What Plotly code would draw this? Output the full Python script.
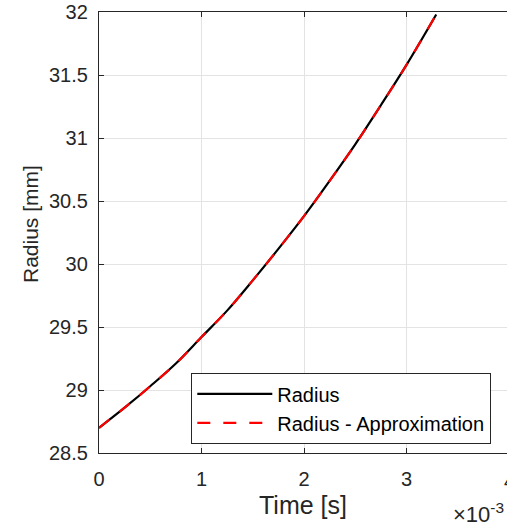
import plotly.graph_objects as go

# Data (time in seconds, radius in mm)
time_s = [0.0, 0.00025, 0.0005, 0.00075, 0.001, 0.00125, 0.0015, 0.00175,
          0.002, 0.00225, 0.0025, 0.00275, 0.003, 0.00329]
radius_mm = [28.70, 28.86, 29.03, 29.21, 29.42, 29.63, 29.87, 30.12,
             30.38, 30.66, 30.95, 31.26, 31.58, 31.98]
radius_approx_mm = [28.70, 28.86, 29.03, 29.21, 29.42, 29.63, 29.87, 30.12,
                    30.38, 30.66, 30.95, 31.26, 31.58, 31.98]

x_tickvals = [0, 0.001, 0.002, 0.003, 0.004]
x_ticktext = ["0", "1", "2", "3", "4"]
y_tickvals = [28.5, 29, 29.5, 30, 30.5, 31, 31.5, 32]
y_ticktext = ["28.5", "29", "29.5", "30", "30.5", "31", "31.5", "32"]

FONT = "Liberation Sans, Arial, Helvetica, sans-serif"
AX = "#262626"
GRID = "#e3e3e3"

W, H = 507, 526
ML, MT, MB = 99, 12, 73
PH = H - MT - MB
# full axes would extend to 509 px (past the window edge); clip the visible range accordingly
full_w = 410
vis_w = W - ML
x_max = 0.004 * vis_w / full_w

fig = go.Figure()
fig.add_trace(go.Scatter(x=time_s, y=radius_mm, mode="lines", name="Radius",
                         line=dict(color="black", width=2.2, shape="spline")))
fig.add_trace(go.Scatter(x=time_s, y=radius_approx_mm, mode="lines",
                         name="Radius - Approximation",
                         line=dict(color="#ff0000", width=2.2, dash="13px,13px", shape="spline")))

fig.update_layout(
    width=W, height=H,
    margin=dict(l=ML, r=0, t=MT, b=MB, pad=0),
    paper_bgcolor="white", plot_bgcolor="white",
    font=dict(family=FONT, color=AX, size=20),
    showlegend=True,
    hovermode=False,
    legend=dict(
        x=(191 - ML) / vis_w, y=(453 - 373) / PH,
        xanchor="left", yanchor="top",
        bgcolor="white", bordercolor=AX, borderwidth=1.3,
        font=dict(family=FONT, size=20, color="black"),
        itemwidth=75,
        tracegroupgap=0,
    ),
    xaxis=dict(
        range=[0, x_max],
        tickvals=x_tickvals, ticktext=x_ticktext,
        ticks="inside", ticklen=5, tickcolor=AX, tickwidth=1.3,
        showline=True, linecolor=AX, linewidth=1.3, mirror="ticks",
        showgrid=True, gridcolor=GRID, gridwidth=1,
        zeroline=False,
        tickfont=dict(size=20, color=AX),
        ticklabelstandoff=8,
        title=dict(text="Time [s]", font=dict(size=25, color=AX), standoff=7),
    ),
    yaxis=dict(
        range=[28.5, 32],
        tickvals=y_tickvals, ticktext=y_ticktext,
        ticks="inside", ticklen=5, tickcolor=AX, tickwidth=1.3,
        showline=True, linecolor=AX, linewidth=1.3, mirror=False,
        showgrid=True, gridcolor=GRID, gridwidth=1,
        zeroline=False,
        tickfont=dict(size=20, color=AX),
        ticklabelstandoff=6,
    ),
    yaxis2=dict(
        overlaying="y", side="right", range=[28.5, 32],
        tickvals=y_tickvals, showticklabels=False,
        ticks="inside", ticklen=5, tickcolor=AX, tickwidth=1.3,
        showline=False, showgrid=False, zeroline=False,
    ),
    annotations=[
        dict(text="Radius [mm]", xref="paper", yref="paper",
             x=(30 - ML) / vis_w, y=(453 - 224) / PH, textangle=-90,
             xanchor="center", yanchor="middle", showarrow=False,
             font=dict(size=21, color=AX)),
        dict(text="4", xref="paper", yref="paper", x=full_w / vis_w, y=-0.035,
             xanchor="center", yanchor="top", showarrow=False,
             font=dict(size=20, color=AX)),
        dict(text="×10<sup>-3</sup>", xref="paper", yref="paper",
             x=(451 - ML) / vis_w, y=-0.10, xanchor="left", yanchor="top",
             showarrow=False, font=dict(size=22, color=AX)),
    ],
)

fig.write_html("out.html")
